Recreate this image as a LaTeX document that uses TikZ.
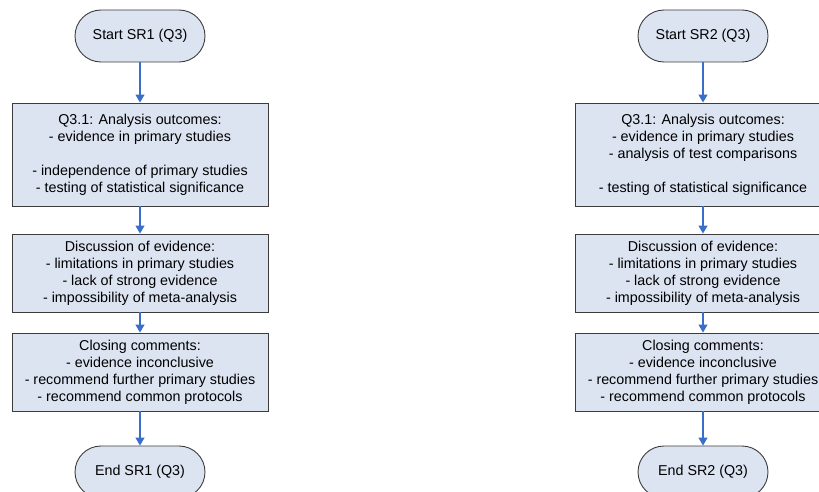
\documentclass[tikz,border=0pt]{standalone}
\usepackage{fontspec}
\setmainfont{Liberation Sans}
\usetikzlibrary{arrows.meta,shapes.misc}
\definecolor{boxfill}{RGB}{220,228,242}
\definecolor{boxline}{RGB}{60,60,60}
\definecolor{arrowblue}{RGB}{58,110,200}
\tikzset{
  every node/.style={font=\fontsize{14.3}{17}\selectfont},
  term/.style={rounded rectangle, draw=boxline, fill=boxfill, line width=0.9pt,
    minimum width=130pt, minimum height=52pt, inner sep=0pt},
  procbox/.style={rectangle, draw=boxline, fill=boxfill, line width=0.9pt,
    minimum width=256pt, align=center, inner sep=0pt},
  flow/.style={draw=arrowblue, line width=1.2pt, -{Triangle[width=9pt,length=8pt]}}
}
\begin{document}
\begin{tikzpicture}[x=1pt,y=-1pt]
\useasboundingbox (0,0) rectangle (819,492);
\clip (0,0) rectangle (819,492);
% left column
\node[term] (s1) at (140,36) {Start SR1 (Q3)};
\node[procbox, minimum height=103pt] (a1) at (140,154.5) {Q3.1: Analysis outcomes:\\- evidence in primary studies\\~\\- independence of primary studies\\- testing of statistical significance};
\node[procbox, minimum height=78pt] (d1) at (140,273) {Discussion of evidence:\\- limitations in primary studies\\- lack of strong evidence\\- impossibility of meta-analysis};
\node[procbox, minimum height=78pt] (c1) at (140,372) {Closing comments:\\- evidence inconclusive\\- recommend further primary studies\\- recommend common protocols};
\node[term] (e1) at (140,472) {End SR1 (Q3)};
\draw[flow] (s1.south) -- (a1.north);
\draw[flow] (a1.south) -- (d1.north);
\draw[flow] (d1.south) -- (c1.north);
\draw[flow] (c1.south) -- (e1.north);
% right column
\node[term] (s2) at (703,36) {Start SR2 (Q3)};
\node[procbox, minimum height=103pt] (a2) at (703,154.5) {Q3.1: Analysis outcomes:\\- evidence in primary studies\\- analysis of test comparisons\\~\\- testing of statistical significance};
\node[procbox, minimum height=78pt] (d2) at (703,273) {Discussion of evidence:\\- limitations in primary studies\\- lack of strong evidence\\- impossibility of meta-analysis};
\node[procbox, minimum height=78pt] (c2) at (703,372) {Closing comments:\\- evidence inconclusive\\- recommend further primary studies\\- recommend common protocols};
\node[term] (e2) at (703,472) {End SR2 (Q3)};
\draw[flow] (s2.south) -- (a2.north);
\draw[flow] (a2.south) -- (d2.north);
\draw[flow] (d2.south) -- (c2.north);
\draw[flow] (c2.south) -- (e2.north);
\end{tikzpicture}
\end{document}
